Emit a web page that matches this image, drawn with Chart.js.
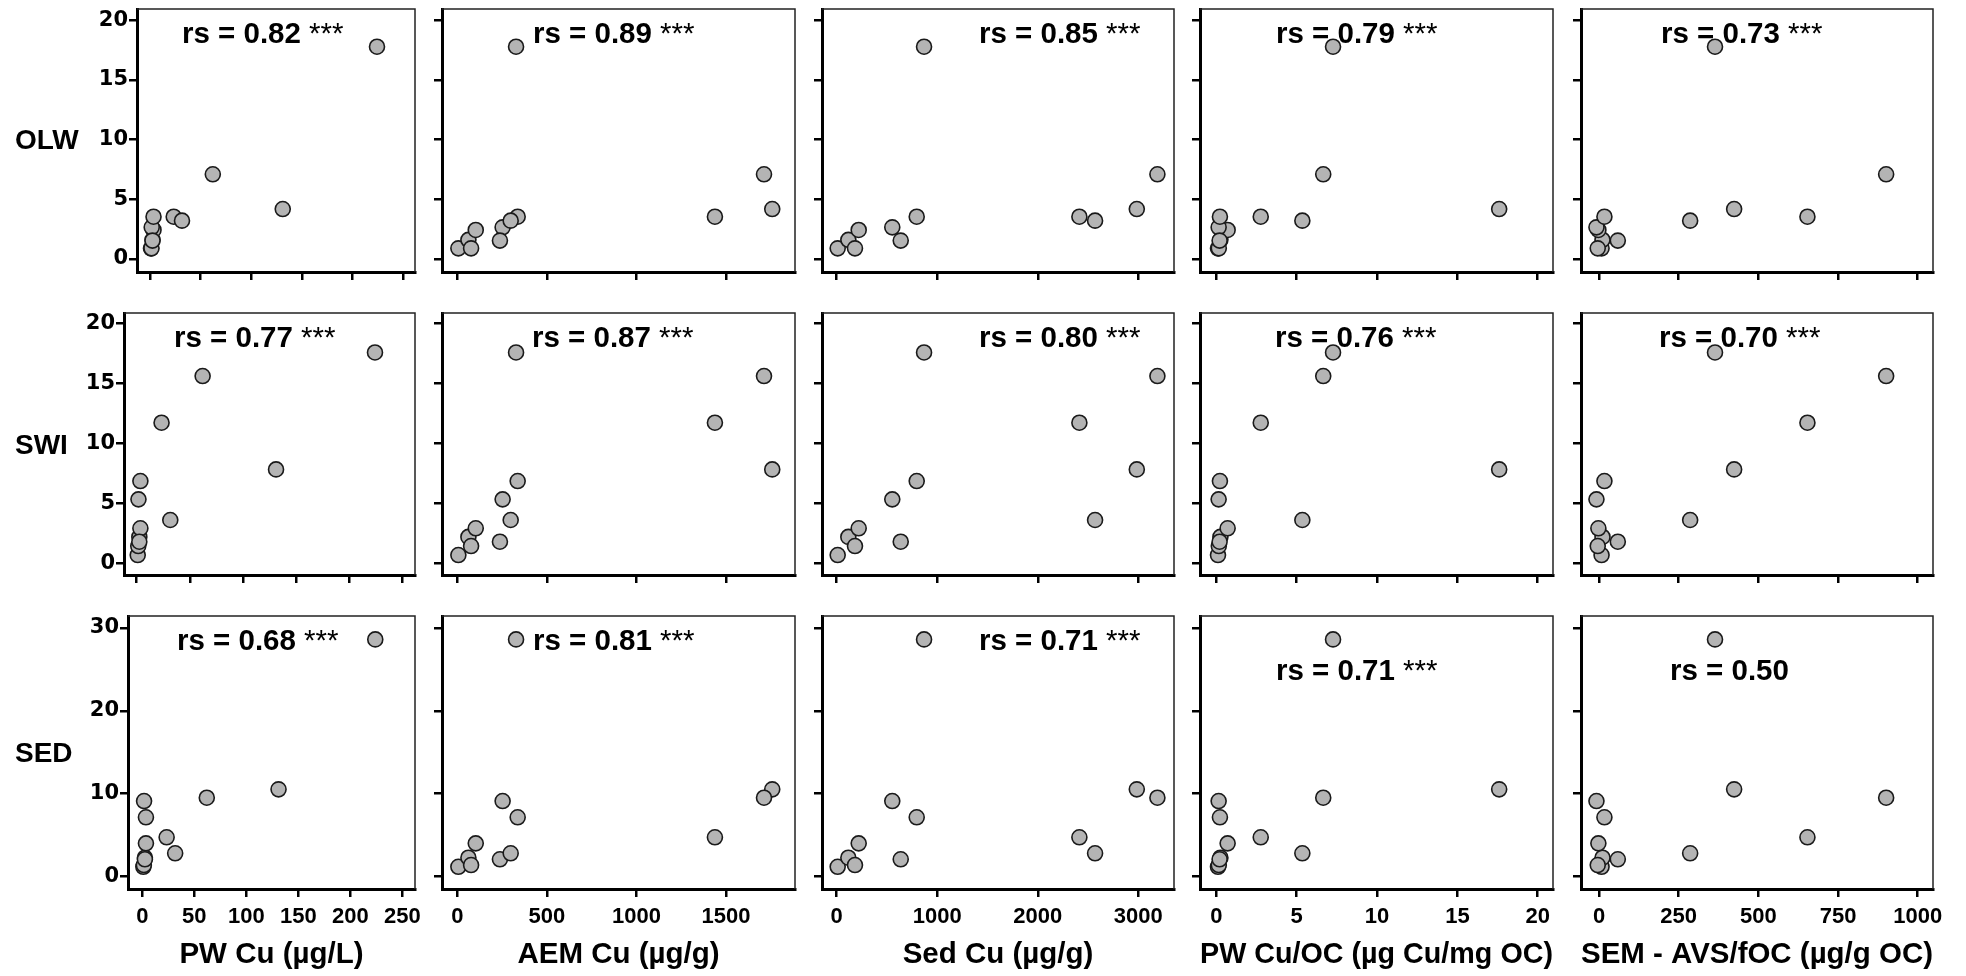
<!DOCTYPE html>
<html>
<head>
<meta charset="utf-8">
<script src="https://cdn.jsdelivr.net/npm/chart.js@4.4.1/dist/chart.umd.min.js"></script>
<style>
html, body { margin: 0; padding: 0; background: #fff; overflow: hidden; width: 1966px; height: 976px; }
canvas { position: absolute; }
</style>
</head>
<body>
<script>
// ---- Data: 12 sites (same order in every array) ----
// x variables (columns)
const pwCu      = [1.0, 2.5, 1.5, 3.5, 1.7, 2.5, 3.5, 224, 23.4, 31.6, 131, 62];
const aemCu     = [6, 62, 77, 103, 253, 238, 337, 328, 1438, 298, 1758, 1712];
const sedCu     = [10, 116, 182, 219, 553, 637, 796, 869, 2414, 2570, 2985, 3190];
const pwCuOC    = [0.1, 0.25, 0.15, 0.7, 0.14, 0.2, 0.22, 7.26, 2.76, 5.35, 17.6, 6.65];
const semAvsFoc = [8, 11, -4, -2, -8, 59, 17, 364, 654, 286, 424, 901];
// y variables (rows)
const olw = [0.89, 1.6, 0.89, 2.43, 2.65, 1.54, 3.54, 17.77, 3.54, 3.21, 4.18, 7.09];
const swi = [0.69, 2.2, 1.44, 2.92, 5.33, 1.8, 6.86, 17.58, 11.72, 3.61, 7.83, 15.61];
const sed = [1.2, 2.29, 1.41, 4.02, 9.12, 2.1, 7.16, 28.6, 4.75, 2.82, 10.53, 9.52];

const rowLabels = ['OLW', 'SWI', 'SED'];
const xTitles = ['PW Cu (µg/L)', 'AEM Cu (µg/g)', 'Sed Cu (µg/g)', 'PW Cu/OC (µg Cu/mg OC)', 'SEM - AVS/fOC (µg/g OC)'];
const rsOLW = ['0.82', '0.89', '0.85', '0.79', '0.73'];
const rsSWI = ['0.77', '0.87', '0.80', '0.76', '0.70'];
const rsSED = ['0.68', '0.81', '0.71', '0.71', '0.50'];
const sigOLW = ['***', '***', '***', '***', '***'];
const sigSWI = ['***', '***', '***', '***', '***'];
const sigSED = ['***', '***', '***', '***', ''];
// tick values
const xTicksPW    = [0, 50, 100, 150, 200, 250];
const xTicksAEM   = [0, 500, 1000, 1500];
const xTicksSed   = [0, 1000, 2000, 3000];
const xTicksPWOC  = [0, 5, 10, 15, 20];
const xTicksSEM   = [0, 250, 500, 750, 1000];
const yTicksOLW   = [0, 5, 10, 15, 20];
const yTicksSWI   = [0, 5, 10, 15, 20];
const yTicksSED   = [0, 10, 20, 30];

// ---- Layout / axis limits ----
const FONT = '"Liberation Sans", Arial, Helvetica, sans-serif';
const YFONT = '"DejaVu Sans", "Liberation Sans", Arial, sans-serif';
const colX = [pwCu, aemCu, sedCu, pwCuOC, semAvsFoc];
const rowY = [olw, swi, sed];
const colXTicks = [xTicksPW, xTicksAEM, xTicksSed, xTicksPWOC, xTicksSEM];
const rowYTicks = [yTicksOLW, yTicksSWI, yTicksSED];
const rsTxt = [rsOLW, rsSWI, rsSED];
const sigTxt = [sigOLW, sigSWI, sigSED];
const rowBox = [{top: 9, bottom: 272}, {top: 313, bottom: 575}, {top: 616, bottom: 889}];
const colLeft = [[137, 124, 128], 442, 822, 1200, 1581];
const colRight = [415, 795, 1174, 1553, 1933];
const yLim = [[-1.09, 20.92], [-0.975, 20.86], [-1.48, 31.41]];
const xLim = [[[-12.8, 261.5], [-11.9, 261.6], [-13.75, 262.2]], [-85.4, 1885], [-146, 3355], [-1.02, 20.95], [-56.5, 1048]];
const annPos = [
  [[45, 34], [91, 34], [157, 34], [76, 34], [80, 34]],
  [[50, 34], [90, 34], [157, 34], [75, 34], [78, 34]],
  [[49, 34], [91, 34], [157, 34], [76, 64], [89, 64]]
];
const rowLabelDy = [1, 2, 1.5];

const decoPlugin = {
  id: 'panelDeco',
  beforeDatasetsDraw(chart, args, o) {
    const ctx = chart.ctx, a = chart.chartArea;
    ctx.save();
    // thin top/right frame
    ctx.strokeStyle = '#222';
    ctx.lineWidth = 1.5;
    ctx.beginPath();
    ctx.moveTo(a.left, a.top);
    ctx.lineTo(a.right, a.top);
    ctx.lineTo(a.right, a.bottom);
    ctx.stroke();
    // rs annotation
    ctx.fillStyle = '#000';
    ctx.textAlign = 'left';
    ctx.textBaseline = 'alphabetic';
    ctx.font = 'bold 29.5px ' + FONT;
    const x0 = a.left + o.dx, y0 = a.top + o.dy;
    const main = 'rs = ' + o.rs;
    ctx.fillText(main, x0, y0);
    if (o.sig) {
      const w = ctx.measureText(main).width;
      ctx.font = '29.5px ' + FONT;
      ctx.fillText(' ' + o.sig, x0 + w, y0);
    }
    // row label
    if (o.rowLabel) {
      ctx.font = 'bold 28px ' + FONT;
      ctx.textBaseline = 'middle';
      ctx.fillText(o.rowLabel, 15, (a.top + a.bottom) / 2 + o.rowDy);
    }
    ctx.restore();
  }
};

for (let r = 0; r < 3; r++) {
  for (let c = 0; c < 5; c++) {
    const boxL = c === 0 ? colLeft[0][r] : colLeft[c];
    const boxR = colRight[c];
    const boxT = rowBox[r].top, boxB = rowBox[r].bottom;
    const left = c === 0 ? 0 : boxL - 22;
    const yW = boxL - left;
    const padTop = 9, padRight = 12;
    const top = boxT - padTop;
    const xH = r === 2 ? 976 - boxB : 22;
    const width = boxR + padRight - left;
    const height = padTop + (boxB - boxT) + xH;
    const xl = c === 0 ? xLim[0][r] : xLim[c];
    const xt = colXTicks[c], yt = rowYTicks[r];

    const cv = document.createElement('canvas');
    cv.width = width; cv.height = height;
    cv.style.left = left + 'px'; cv.style.top = top + 'px';
    cv.style.width = width + 'px'; cv.style.height = height + 'px';
    document.body.appendChild(cv);

    const pts = colX[c].map((x, i) => ({x: x, y: rowY[r][i]}));

    new Chart(cv, {
      type: 'scatter',
      data: {
        datasets: [{
          data: pts,
          backgroundColor: '#b4b4b4',
          borderColor: '#1a1a1a',
          borderWidth: 1.6,
          pointRadius: 7.5,
          pointHoverRadius: 7.5,
          clip: false
        }]
      },
      options: {
        responsive: false,
        animation: false,
        devicePixelRatio: 1,
        events: [],
        layout: {padding: {left: 0, top: padTop, right: padRight, bottom: 0}},
        plugins: {
          legend: {display: false},
          tooltip: {enabled: false},
          panelDeco: {
            dx: annPos[r][c][0], dy: annPos[r][c][1],
            rs: rsTxt[r][c], sig: sigTxt[r][c],
            rowLabel: c === 0 ? rowLabels[r] : '',
            rowDy: rowLabelDy[r]
          }
        },
        scales: {
          x: {
            type: 'linear', position: 'bottom',
            min: xl[0], max: xl[1],
            afterBuildTicks(s) { s.ticks = xt.map(v => ({value: v})); },
            ticks: {
              display: r === 2, autoSkip: false, maxRotation: 0, minRotation: 0, padding: 7,
              callback: v => String(v),
              color: '#000', font: {family: FONT, size: 22, weight: 'bold'}
            },
            grid: {display: true, drawOnChartArea: false, drawTicks: true, tickLength: 8,
                   lineWidth: 2.5, tickWidth: 2.5, tickColor: '#000', color: '#000'},
            border: {display: true, width: 3, color: '#000'},
            title: {display: r === 2, text: xTitles[c], color: '#000',
                    font: {family: FONT, size: 29.5, weight: 'bold'}, padding: {top: 0, bottom: 3}},
            afterFit(s) { s.height = xH; s.paddingLeft = 0; s.paddingRight = 0; }
          },
          y: {
            type: 'linear', position: 'left',
            min: yLim[r][0], max: yLim[r][1],
            afterBuildTicks(s) { s.ticks = yt.map(v => ({value: v})); },
            ticks: {
              display: c === 0, autoSkip: false, padding: 1,
              callback: v => String(v),
              color: '#000', font: {family: YFONT, size: 21, weight: 'bold'}
            },
            grid: {display: true, drawOnChartArea: false, drawTicks: true, tickLength: 8,
                   lineWidth: 2.5, tickWidth: 2.5, tickColor: '#000', color: '#000'},
            border: {display: true, width: 3, color: '#000'},
            afterFit(s) { s.width = yW; s.paddingTop = 0; s.paddingBottom = 0; }
          }
        }
      },
      plugins: [decoPlugin]
    });
  }
}
</script>
</body>
</html>
